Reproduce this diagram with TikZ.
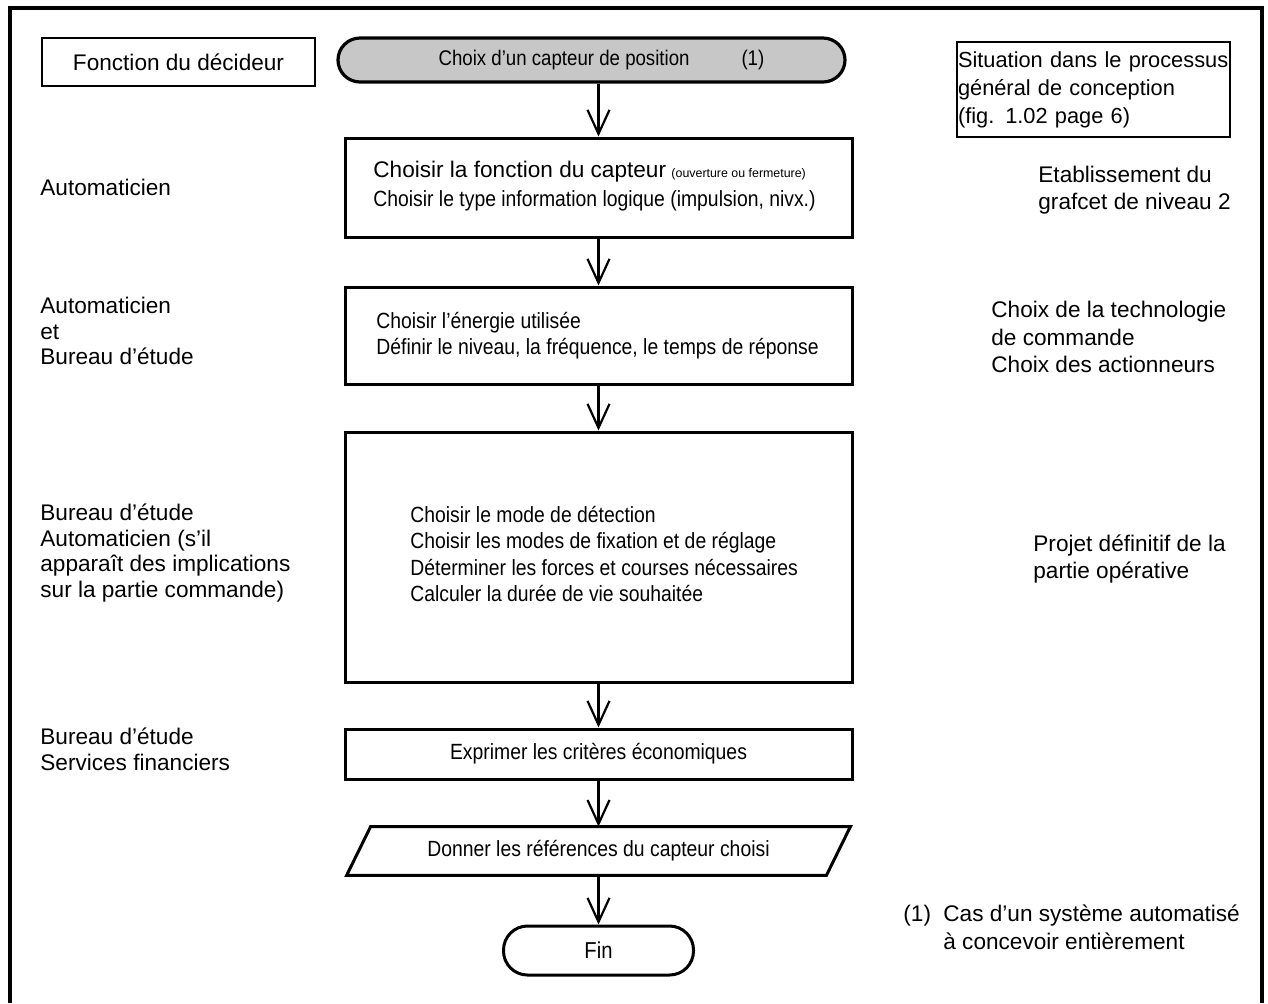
\documentclass[tikz,border=0pt]{standalone}
\usepackage{fontspec}
\setmainfont{Liberation Sans}
\newfontfamily\boxfont[FakeStretch=0.88]{Liberation Sans}
\usetikzlibrary{arrows.meta}
\begin{document}
\begin{tikzpicture}[x=0.5pt,y=-0.5pt,
  thickbox/.style={draw, line width=1.5pt, minimum width=253.5pt, inner sep=0pt,
    font=\boxfont\fontsize{11}{14}\selectfont},
  boxtext/.style={anchor=west, align=left, inner sep=0pt},
  thinbox/.style={draw, line width=0.8pt, inner sep=0pt, font=\fontsize{11.3}{14}\selectfont},
  lside/.style={anchor=west, align=left, inner sep=0pt, font=\fontsize{11.3}{12.8}\selectfont},
  rside/.style={anchor=west, align=left, inner sep=0pt, font=\fontsize{11.3}{13.8}\selectfont},
  arr/.style={line width=1.1pt, -{Straight Barb[length=12pt,width=11pt]}},
]
\useasboundingbox (0,0) rectangle (1268,1003);
% outer frame
\draw[line width=1.6pt] (10,1003) -- (10,8) -- (1262,8) -- (1262,1003);

% header boxes
\node[thinbox, minimum width=136.5pt, minimum height=24pt] (fd) at (178.5,62) {Fonction du décideur};
\node[thinbox, text width=135.5pt, inner xsep=0.5pt, minimum height=47.5pt, align=left,
      font=\fontsize{10.9}{14}\selectfont] (sit) at (1093.5,89.5)
  {Situation dans le processus\\général de conception\\(fig. 1.02 page 6)};

% main chain
\node[draw, line width=1.6pt, fill=black!22, rounded corners=11pt, minimum width=253.5pt,
      minimum height=22pt, inner sep=0pt, font=\boxfont\fontsize{10.6}{12}\selectfont]
  (start) at (591.5,60) {\hspace*{10pt}Choix d’un capteur de position\hspace{26pt}(1)};

\node[thickbox, minimum height=49.5pt] (b2) at (598.5,187.5) {};
\node[boxtext, font=\boxfont\fontsize{11}{14.5}\selectfont] (b2t) at (373,186)
  {{\normalfont\fontsize{11.3}{14.5}\selectfont Choisir la fonction du capteur}
   {\normalfont\fontsize{6.2}{8}\selectfont (ouverture ou fermeture)}\\
   Choisir le type information logique (impulsion, nivx.)};

\node[thickbox, minimum height=48.5pt] (b3) at (598.5,335.5) {};
\node[boxtext, font=\boxfont\fontsize{11}{13}\selectfont] (b3t) at (376,336)
  {Choisir l’énergie utilisée\\Définir le niveau, la fréquence, le temps de réponse};

\node[thickbox, minimum height=125pt] (b4) at (598.5,557) {};
\node[boxtext, font=\boxfont\fontsize{11}{13.3}\selectfont] (b4t) at (410,554)
  {Choisir le mode de détection\\Choisir les modes de fixation et de réglage\\
   Déterminer les forces et courses nécessaires\\Calculer la durée de vie souhaitée};

\node[thickbox, minimum height=25pt] (b5) at (598.5,754) {Exprimer les critères économiques};

\node[minimum width=251.5pt, minimum height=24pt, inner sep=0pt,
      font=\boxfont\fontsize{11}{13}\selectfont] (par) at (598.5,851)
  {Donner les références du capteur choisi};
\draw[line width=1.5pt, line join=miter] ([xshift=12pt]par.north west) -- (par.north east)
  -- ([xshift=-12pt]par.south east) -- (par.south west) -- cycle;

\node[draw, line width=1.5pt, rounded corners=12pt, minimum width=95pt, minimum height=24.5pt,
      inner sep=0pt, font=\boxfont\fontsize{11.5}{13}\selectfont] (fin) at (598.5,950.5) {Fin};

% connectors
\draw[arr] (start.south -| b2.north) -- (b2.north);
\draw[arr] (b2.south) -- (b3.north);
\draw[arr] (b3.south) -- (b4.north);
\draw[arr] (b4.south) -- (b5.north);
\draw[arr] (b5.south) -- (par.north);
\draw[arr] (par.south) -- (fin.north);

% left column
\node[lside] (l1) at (40,187) {Automaticien};
\node[lside] (l2) at (40,331) {Automaticien\\et\\Bureau d’étude};
\node[lside] (l3) at (40,553) {Bureau d’étude\\Automaticien (s’il\\apparaît des implications\\sur la partie commande)};
\node[lside] (l4) at (40,749.5) {Bureau d’étude\\Services financiers};

% right column
\node[rside] (r1) at (1038,190) {Etablissement du\\grafcet de niveau 2};
\node[rside] (r2) at (991,337) {Choix de la technologie\\de commande\\Choix des actionneurs};
\node[rside] (r3) at (1033,559) {Projet définitif de la\\partie opérative};
\node[rside] (note) at (903,927)
  {\makebox[20pt][l]{(1)}Cas d’un système automatisé\\\hspace*{20pt}à concevoir entièrement};
\end{tikzpicture}
\end{document}
